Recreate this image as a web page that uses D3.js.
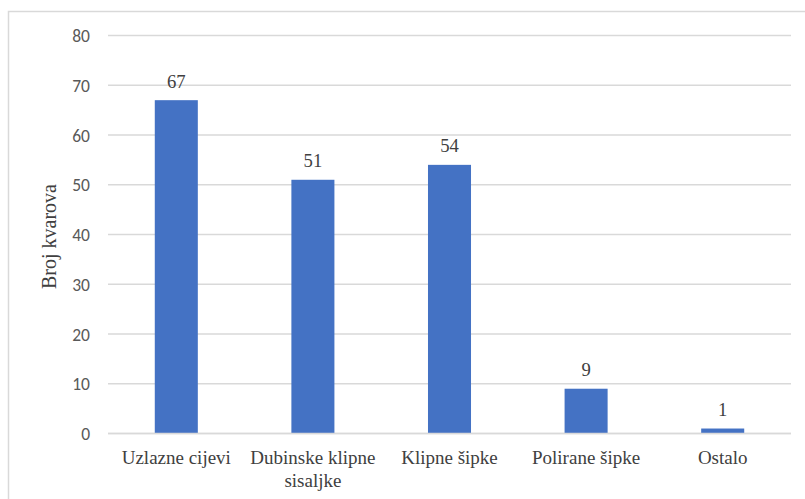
<!DOCTYPE html>
<html>
<head>
<meta charset="utf-8">
<script src="https://cdn.jsdelivr.net/npm/d3@7"></script>
<style>
  html, body { margin: 0; padding: 0; background: #fff; }
  svg { display: block; }
  .serif { font-family: "Liberation Serif", "DejaVu Serif", "Noto Serif", Tinos, "Times New Roman", serif; }
  .sans { font-family: Carlito, "Liberation Sans", "DejaVu Sans", Arial, sans-serif; }
</style>
</head>
<body>
<svg id="chart" width="805" height="499"></svg>
<script>
// Failure counts per component
const categories = ["Uzlazne cijevi", "Dubinske klipne sisaljke", "Klipne šipke", "Polirane šipke", "Ostalo"];
const categoryLines = [["Uzlazne cijevi"], ["Dubinske klipne", "sisaljke"], ["Klipne šipke"], ["Polirane šipke"], ["Ostalo"]];
const failures = [67, 51, 54, 9, 1];
const yTicks = [0, 10, 20, 30, 40, 50, 60, 70, 80];
const yTitle = "Broj kvarova";

const svg = d3.select("#chart");
const W = 805, H = 499;
const plot = { left: 108, right: 791, top: 35.5, bottom: 433.5 };

// Outer chart frame
svg.append("rect")
  .attr("x", 8.5).attr("y", 11.5)
  .attr("width", W + 10).attr("height", H + 10)
  .attr("fill", "#fff").attr("stroke", "#d9d9d9").attr("stroke-width", 1.5);

const x = d3.scaleBand()
  .domain(categories)
  .range([plot.left, plot.right])
  .paddingInner(0.685)
  .paddingOuter(0.3425);

const y = d3.scaleLinear()
  .domain([0, 80])
  .range([plot.bottom, plot.top]);

// Horizontal gridlines
svg.append("g")
  .selectAll("line")
  .data(yTicks)
  .join("line")
  .attr("x1", plot.left).attr("x2", plot.right)
  .attr("y1", d => y(d)).attr("y2", d => y(d))
  .attr("stroke", "#d9d9d9").attr("stroke-width", 1.5);

// Y axis labels
const yAxis = d3.axisLeft(y).tickValues(yTicks).tickSize(0).tickPadding(0);
const yg = svg.append("g")
  .attr("transform", `translate(${plot.left - 18},0)`)
  .call(yAxis);
yg.select(".domain").remove();
yg.attr("font-family", null).attr("font-size", null);
yg.selectAll("text")
  .attr("class", "sans")
  .attr("font-size", 17.5)
  .attr("fill", "#595959")
  .attr("dy", "0.35em");

// Bars
svg.append("g")
  .selectAll("rect")
  .data(failures)
  .join("rect")
  .attr("x", (d, i) => x(categories[i]))
  .attr("width", x.bandwidth())
  .attr("y", d => y(d))
  .attr("height", d => y(0) - y(d))
  .attr("fill", "#4472c4");

// Value labels above bars
svg.append("g")
  .selectAll("text")
  .data(failures)
  .join("text")
  .attr("class", "serif")
  .attr("x", (d, i) => x(categories[i]) + x.bandwidth() / 2)
  .attr("y", d => y(d) - 12.5)
  .attr("text-anchor", "middle")
  .attr("font-size", 18.7)
  .attr("fill", "#404040")
  .text(d => d);

// Baseline
svg.append("line")
  .attr("x1", plot.left).attr("x2", plot.right)
  .attr("y1", y(0)).attr("y2", y(0))
  .attr("stroke", "#d9d9d9").attr("stroke-width", 1.5);

// Category labels
const cat = svg.append("g")
  .selectAll("text")
  .data(categoryLines)
  .join("text")
  .attr("class", "serif")
  .attr("x", (d, i) => x(categories[i]) + x.bandwidth() / 2)
  .attr("y", 464)
  .attr("text-anchor", "middle")
  .attr("font-size", 19)
  .attr("fill", "#404040");
cat.each(function(lines, i) {
  const t = d3.select(this);
  const cx = x(categories[i]) + x.bandwidth() / 2;
  lines.forEach((ln, j) => {
    t.append("tspan").attr("x", cx).attr("dy", j === 0 ? 0 : 22.7).text(ln);
  });
});

// Y axis title
svg.append("text")
  .attr("class", "serif")
  .attr("transform", `translate(56,${(plot.top + plot.bottom) / 2 + 2}) rotate(-90)`)
  .attr("text-anchor", "middle")
  .attr("font-size", 20)
  .attr("fill", "#404040")
  .text(yTitle);
</script>
</body>
</html>
